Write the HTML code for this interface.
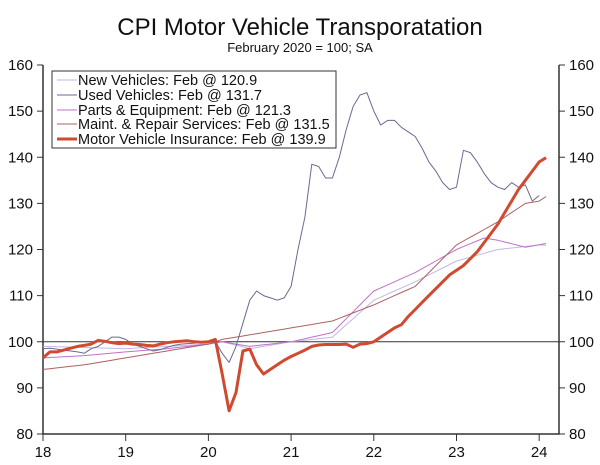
<!DOCTYPE html><html><head><meta charset="utf-8"><style>
body{margin:0;background:#fff;width:600px;height:460px;overflow:hidden}
svg text{font-family:"Liberation Sans",sans-serif;fill:#111}
</style></head><body>
<svg id="s" width="600" height="460" xmlns="http://www.w3.org/2000/svg">
<text x="300" y="35" font-size="24" text-anchor="middle">CPI Motor Vehicle Transporatation</text>
<text x="300" y="52" font-size="13" text-anchor="middle">February 2020 = 100; SA</text>
<g id="ax"></g><g id="ser"></g>
<rect x="52" y="71" width="284" height="77" fill="#fff" stroke="#333" stroke-width="1"/>
<g font-size="14.5">
<line x1="57" x2="77" y1="80" y2="80" stroke="#c0b8e8"/><text x="78" y="85">New Vehicles: Feb @ 120.9</text>
<line x1="57" x2="77" y1="95" y2="95" stroke="#6a6a90"/><text x="78" y="100">Used Vehicles: Feb @ 131.7</text>
<line x1="57" x2="77" y1="110" y2="110" stroke="#c070c8"/><text x="78" y="115">Parts &amp; Equipment: Feb @ 121.3</text>
<line x1="57" x2="77" y1="124" y2="124" stroke="#b06060"/><text x="78" y="129">Maint. &amp; Repair Services: Feb @ 131.5</text>
<line x1="57" x2="77" y1="139" y2="139" stroke="#d04a30" stroke-width="3"/><text x="78" y="144">Motor Vehicle Insurance: Feb @ 139.9</text>
</g>
</svg>
<script>
var X=t=>43+(t-18)*82.7, Y=v=>434-(v-80)*4.6125;
var ax=document.getElementById('ax'),h='';
h+='<line x1="43" x2="559" y1="'+Y(100)+'" y2="'+Y(100)+'" stroke="#333"/>';
h+='<polyline points="43,65 43,434 559,434 559,65" fill="none" stroke="#333" stroke-width="1.5"/>';
for(var v=80;v<=160;v+=10){var y=Y(v);h+='<line x1="37" x2="43" y1="'+y+'" y2="'+y+'" stroke="#333"/><line x1="559" x2="565" y1="'+y+'" y2="'+y+'" stroke="#333"/>';
h+='<text x="33" y="'+(y+5)+'" font-size="15" text-anchor="end">'+v+'</text><text x="569" y="'+(y+5)+'" font-size="15">'+v+'</text>';}
for(var t=18;t<=24;t++){var x=X(t);h+='<line x1="'+x+'" x2="'+x+'" y1="434" y2="441" stroke="#333"/><text x="'+x+'" y="457" font-size="15" text-anchor="middle">'+t+'</text>';}
ax.innerHTML=h;
function path(arr,c,w){var p=arr.map((v,i)=>X(18+i/12).toFixed(1)+','+Y(v).toFixed(1)).join(' ');return '<polyline points="'+p+'" fill="none" stroke="'+c+'" stroke-width="'+w+'" stroke-linejoin="round"/>';}
function interp(k){var out=[];for(var i=0;i<74;i++){for(var j=0;j<k.length-1;j++){if(i>=k[j][0]&&i<=k[j+1][0]){var f=(i-k[j][0])/(k[j+1][0]-k[j][0]||1);out.push(k[j][1]+f*(k[j+1][1]-k[j][1]));break;}}}return out;}
var ins=[96.5,97.8,97.8,98.2,98.6,99,99.2,99.5,100.3,100.1,99.8,99.6,99.7,99.5,99.4,99.2,99.1,99.5,99.8,100,100.1,100.2,100,99.9,100,100.5,93,85,89,98,98.4,95,93,94,95,96,96.8,97.5,98.2,99,99.3,99.4,99.4,99.4,99.5,98.8,99.5,99.6,100,101,102,103,103.7,105.5,107,108.5,110,111.5,113,114.5,115.5,116.5,118,119.5,121.5,123.5,125.5,128,130.5,133,135,137,139,139.9];
var used=[98.5,98.6,98.4,98.2,98,97.8,97.5,98.5,99,100,101,101,100.5,99.5,99,98.5,98,98.3,98.8,99.2,99.5,99.6,99.7,99.8,99.9,100,97.5,95.5,99,104,109,111,110,109.5,109,109.5,112,120,127,138.5,138,135.5,135.5,140,146,151,153.5,154,150,147,148,148,146.5,145.5,144.5,142,139,137,134.5,133,133.5,141.5,141,139,136.5,134.5,133.5,133,134.5,133.5,134,130.5,131.7];
var nw=interp([[0,99],[12,98.5],[24,99.5],[26,100],[30,98.5],[36,100],[42,101],[48,109],[54,113],[60,117.5],[66,120],[72,121],[73,120.9]]);
var parts=interp([[0,96.5],[6,97],[12,97.8],[18,98.5],[24,99.5],[26,100],[30,99],[36,100],[42,102],[48,111],[54,115],[60,120],[64,122.5],[66,122],[70,120.5],[73,121.3]]);
var mnt=interp([[0,94],[6,95],[12,96.5],[18,98],[24,99.5],[26,100.5],[30,101.5],[36,103],[42,104.5],[48,108],[54,112],[60,121],[66,126],[70,130],[72,130.5],[73,131.5]]);
document.getElementById('ser').innerHTML=path(nw,'#c0b8e8',1)+path(parts,'#c070c8',1)+path(mnt,'#b06060',1)+path(used,'#6a6a90',1)+path(ins,'#d04a30',3);
</script>
</body></html>
